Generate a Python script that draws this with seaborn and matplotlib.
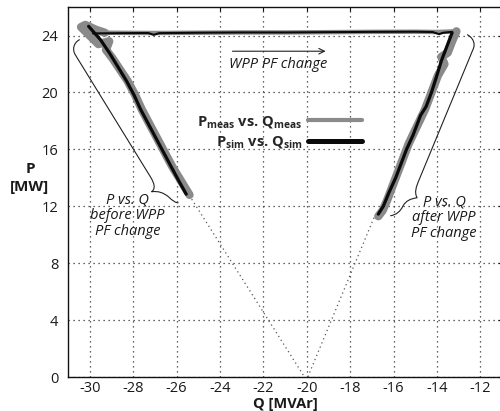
import matplotlib
matplotlib.use("Agg")
import matplotlib.pyplot as plt
import seaborn as sns
from matplotlib.path import Path
from matplotlib.patches import PathPatch
from matplotlib.lines import Line2D

# ---------------- data ----------------
# measured trajectory (gray band)
q_meas_before = [-25.4, -25.8, -26.2, -26.55, -26.9, -27.25, -27.6, -27.9, -28.25, -28.6,
                 -28.95, -29.25, -29.2, -29.1, -29.6, -30.0, -30.4, -30.2, -29.7, -29.3]
p_meas_before = [12.8, 13.8, 14.8, 15.8, 16.8, 17.8, 18.8, 19.8, 20.8, 21.6,
                 22.4, 23.0, 23.2, 23.6, 23.4, 24.0, 24.6, 24.75, 24.4, 24.2]
q_meas_change = [-29.3, -27.0, -25.0, -23.0, -21.0, -19.0, -17.0, -15.0, -14.0, -13.1]
p_meas_change = [24.2, 24.18, 24.2, 24.22, 24.22, 24.24, 24.26, 24.27, 24.25, 24.3]
q_meas_after = [-13.1, -13.3, -13.5, -13.8, -13.65, -13.95, -14.15, -14.35, -14.55, -14.8, -15.05,
                -15.3, -15.5, -15.7, -15.9, -16.1, -16.3, -16.5, -16.7]
p_meas_after = [24.3, 23.6, 22.8, 22.5, 22.0, 21.2, 20.4, 19.6, 18.8, 18.0, 17.2,
                16.4, 15.6, 14.8, 14.0, 13.2, 12.4, 11.7, 11.3]

# simulated trajectory (black line)
q_sim_before = [-25.55, -25.9, -26.25, -26.6, -26.95, -27.3, -27.65, -27.95, -28.3, -28.7,
                -29.1, -29.5, -30.05]
p_sim_before = [12.85, 13.8, 14.8, 15.8, 16.8, 17.8, 18.8, 19.8, 20.8, 21.8,
                22.8, 23.7, 24.65]
q_sim_change = [-29.85, -28.5, -27.3, -27.05, -26.8, -25.0, -23.0, -21.0, -19.0, -17.0,
                -15.0, -14.2, -13.9, -13.7, -13.3]
p_sim_change = [24.15, 24.17, 24.18, 24.05, 24.17, 24.2, 24.22, 24.22, 24.24, 24.26,
                24.27, 24.25, 24.1, 24.2, 24.26]
q_sim_after = [-13.3, -13.55, -13.8, -14.0, -14.25, -14.5, -14.75, -14.85, -15.1, -15.4,
               -15.65, -15.9, -16.2, -16.47, -16.7]
p_sim_after = [24.2, 23.2, 22.2, 21.2, 20.0, 19.0, 18.4, 18.0, 17.0, 16.0,
               15.0, 14.0, 13.0, 12.0, 11.45]

# dotted extrapolations towards P = 0
q_extrap_before = [-25.3, -20.1]
p_extrap_before = [12.5, 0.0]
q_extrap_after = [-16.9, -19.95]
p_extrap_after = [11.2, 0.0]

x_ticks = [-30, -28, -26, -24, -22, -20, -18, -16, -14, -12]
y_ticks = [0, 4, 8, 12, 16, 20, 24]

legend_labels = [r"P$_{\mathbf{meas}}$ vs. Q$_{\mathbf{meas}}$",
                 r"P$_{\mathbf{sim}}$ vs. Q$_{\mathbf{sim}}$"]

# curly-brace annotation outlines (Bezier vertices, data coords)
brace_before = [(-30.46, 23.72), (-30.74, 23.50), (-30.83, 23.01), (-30.64, 22.59),
                (-27.19, 14.04), (-27.01, 13.58), (-26.96, 13.23), (-27.15, 13.02),
                (-26.83, 13.09), (-26.60, 12.95), (-26.37, 12.67), (-26.18, 12.39),
                (-26.04, 12.24), (-25.91, 12.24)]
brace_after = [(-12.61, 24.07), (-12.34, 23.86), (-12.20, 23.43), (-12.34, 23.01),
               (-14.82, 13.86), (-14.96, 13.37), (-15.05, 12.95), (-14.91, 12.60),
               (-15.23, 12.53), (-15.42, 12.39), (-15.56, 12.03), (-15.69, 11.61),
               (-15.88, 11.40), (-16.15, 11.33)]

# ---------------- style ----------------
sns.set_style("white")
plt.rcParams["font.family"] = ["Open Sans", "DejaVu Sans"]
plt.rcParams["mathtext.fontset"] = "custom"
plt.rcParams["mathtext.rm"] = "Open Sans"
plt.rcParams["mathtext.bf"] = "Open Sans:bold"
plt.rcParams["mathtext.it"] = "Open Sans:italic"
plt.rcParams["axes.unicode_minus"] = False

GRAY = "#8a8a8a"
BLACK = "#0a0a0a"
TXT = "#1a1a1a"

fig = plt.figure(figsize=(5, 4.11), dpi=100)
ax = fig.add_axes([0.136, 0.0827, 0.868, 0.9])

# measured (gray, thick)
sns.lineplot(x=q_meas_before, y=p_meas_before, sort=False, estimator=None, ax=ax,
             color=GRAY, linewidth=6.0, solid_capstyle="round", solid_joinstyle="round")
sns.lineplot(x=q_meas_change, y=p_meas_change, sort=False, estimator=None, ax=ax,
             color=GRAY, linewidth=3.2, solid_capstyle="round", solid_joinstyle="round")
sns.lineplot(x=q_meas_after, y=p_meas_after, sort=False, estimator=None, ax=ax,
             color=GRAY, linewidth=6.0, solid_capstyle="round", solid_joinstyle="round")
# simulated (black)
sns.lineplot(x=q_sim_before, y=p_sim_before, sort=False, estimator=None, ax=ax,
             color=BLACK, linewidth=2.3, solid_capstyle="round", solid_joinstyle="round")
sns.lineplot(x=q_sim_change, y=p_sim_change, sort=False, estimator=None, ax=ax,
             color=BLACK, linewidth=1.5, solid_capstyle="round", solid_joinstyle="round")
sns.lineplot(x=q_sim_after, y=p_sim_after, sort=False, estimator=None, ax=ax,
             color=BLACK, linewidth=2.3, solid_capstyle="round", solid_joinstyle="round")
# extrapolations
for qq, pp in ((q_extrap_before, p_extrap_before), (q_extrap_after, p_extrap_after)):
    sns.lineplot(x=qq, y=pp, sort=False, estimator=None, ax=ax,
                 color="#555555", linewidth=0.9, linestyle=(0, (1, 2.6)))

# braces
codes = [Path.MOVETO, Path.CURVE4, Path.CURVE4, Path.CURVE4, Path.LINETO,
         Path.CURVE4, Path.CURVE4, Path.CURVE4, Path.CURVE4, Path.CURVE4, Path.CURVE4,
         Path.CURVE4, Path.CURVE4, Path.CURVE4]
for verts in (brace_before, brace_after):
    ax.add_patch(PathPatch(Path(verts, codes), facecolor="none", edgecolor="#222222", lw=0.8))

# axes
ax.set_xlim(-31, -11)
ax.set_ylim(0, 26)
ax.set_xticks(x_ticks)
ax.set_yticks(y_ticks)
ax.grid(True, linestyle=(0, (1, 3)), color="#333333", linewidth=0.9)
ax.set_axisbelow(True)
for s in ax.spines.values():
    s.set_color("#111111")
    s.set_linewidth(1.0)
ax.tick_params(direction="in", length=3, width=0.8, top=True, right=True,
               labelsize=10.5, labelcolor=TXT, color="#111111")
ax.tick_params(axis="y", pad=7)
ax.tick_params(axis="x", pad=3)

ax.set_xlabel("Q [MVAr]", fontweight="bold", fontsize=10.5, color=TXT, va="center")
ax.xaxis.set_label_coords(0.5, -0.0735)
ax.set_ylabel("P\n[MW]", rotation=0, fontweight="bold", fontsize=11, color=TXT,
              ha="center", va="center", linespacing=1.3)
ax.yaxis.set_label_coords(-0.0876, 0.538)

# legend
handles = [Line2D([], [], color=GRAY, lw=3.0), Line2D([], [], color=BLACK, lw=3.6)]
ax.legend(handles, legend_labels, loc="center right", bbox_to_anchor=(0.677, 0.662),
          frameon=False, markerfirst=False, borderaxespad=0, borderpad=0,
          handlelength=3.7, handletextpad=0.35, labelspacing=0.3,
          prop={"weight": "bold", "size": 10.5})

# annotations
ax.annotate("", xy=(-19.0, 22.9), xytext=(-23.55, 22.9),
            arrowprops=dict(arrowstyle="->", lw=0.8, color="#222222"))
ax.text(-21.3, 21.96, "WPP PF change", style="italic", ha="center", va="center",
        fontsize=10.5, color=TXT)
ax.text(-28.25, 11.33, "P vs. Q\nbefore WPP\nPF change", style="italic", ha="center",
        va="center", fontsize=10.5, color=TXT, linespacing=1.1)
ax.text(-13.67, 11.19, "P vs. Q\nafter WPP\nPF change", style="italic", ha="center",
        va="center", fontsize=10.5, color=TXT, linespacing=1.1)

fig.savefig("out.png", dpi=100)
